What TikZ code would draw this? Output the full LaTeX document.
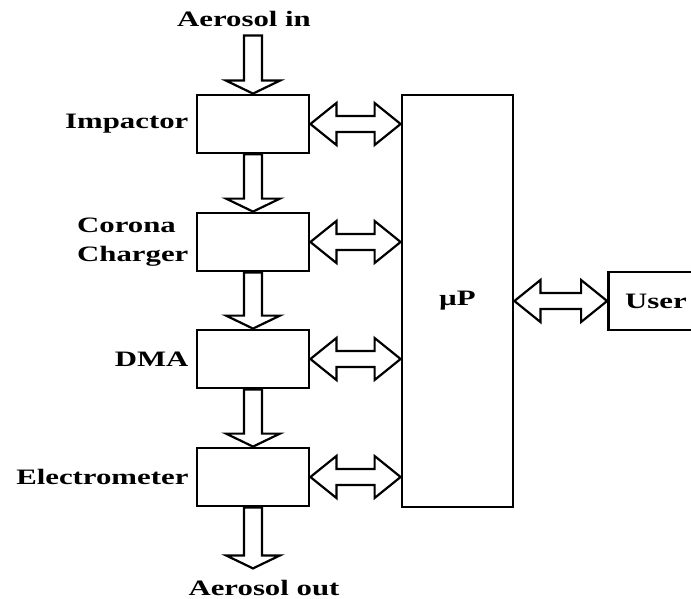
\documentclass[tikz,border=0pt]{standalone}
\usepackage{fontspec}
\setmainfont{Liberation Serif}[FakeStretch=1.4]
\usepackage{tikz}
\usetikzlibrary{positioning, calc}
\tikzset{
    block/.style={draw=black, line width=2.8pt, minimum width=112pt, minimum height=58pt, inner sep=0pt,
        font=\fontsize{22}{29}\selectfont\bfseries},
    hollow/.style={draw=black, line width=2.2pt, line join=miter},
    rotulo/.style={font=\fontsize{22}{29}\selectfont\bfseries, inner sep=0pt}
}
% hollow block arrow pointing down, from #1 to the tip #2
\newcommand{\flowarrow}[2]{%
    \draw[hollow] ($(#1)+(-9,0)$) -- ($(#2)+(-9,-13)$) -- ($(#2)+(-27,-13)$) -- (#2)
        -- ($(#2)+(27,-13)$) -- ($(#2)+(9,-13)$) -- ($(#1)+(9,0)$) -- cycle;}
% hollow double arrow, tips at #1 (left) and #2 (right)
\newcommand{\linkarrow}[2]{%
    \draw[hollow] (#1) -- ($(#1)+(26,-21)$) -- ($(#1)+(26,-8)$) -- ($(#2)+(-26,-8)$)
        -- ($(#2)+(-26,-21)$) -- (#2) -- ($(#2)+(-26,21)$) -- ($(#2)+(-26,8)$)
        -- ($(#1)+(26,8)$) -- ($(#1)+(26,21)$) -- cycle;}

\begin{document}
\begin{tikzpicture}[x=1pt, y=-1pt]
    \useasboundingbox (0,0) rectangle (691,599);

    % measuring chain
    \node[block] (imp) at (253,124) {};
    \node[block] (cor) at (253,242) {};
    \node[block] (dma) at (253,359) {};
    \node[block] (ele) at (253,477) {};

    \node[rotulo, left=7pt of imp] (limp) {Impactor};
    \node[rotulo, left=7pt of cor, align=left] (lcor) {Corona\\Charger};
    \node[rotulo, left=7pt of dma] (ldma) {DMA};
    \node[rotulo, left=7pt of ele] (lele) {Electrometer};

    % processor and user
    \node[block, minimum width=111pt, minimum height=412pt] (mp) at (457.5,301) {µP};
    \node[block, minimum width=95pt] (usr) at (656,301) {User};

    % aerosol flow
    \node[rotulo, anchor=base] (ain) at (244,27) {Aerosol in};
    \node[rotulo, anchor=base] (aout) at (264,595) {Aerosol out};
    \coordinate (srcin) at ($(imp.north)+(0,-58)$);
    \coordinate (sinkout) at ($(ele.south)+(0,61)$);

    \flowarrow{srcin}{imp.north}
    \flowarrow{imp.south}{cor.north}
    \flowarrow{cor.south}{dma.north}
    \flowarrow{dma.south}{ele.north}
    \flowarrow{ele.south}{sinkout}

    % data links
    \foreach \b in {imp,cor,dma,ele} {
        \coordinate (\b-mp) at (mp.west |- \b.east);
        \linkarrow{\b.east}{\b-mp}
    }
    \linkarrow{mp.east}{usr.west}
\end{tikzpicture}
\end{document}
